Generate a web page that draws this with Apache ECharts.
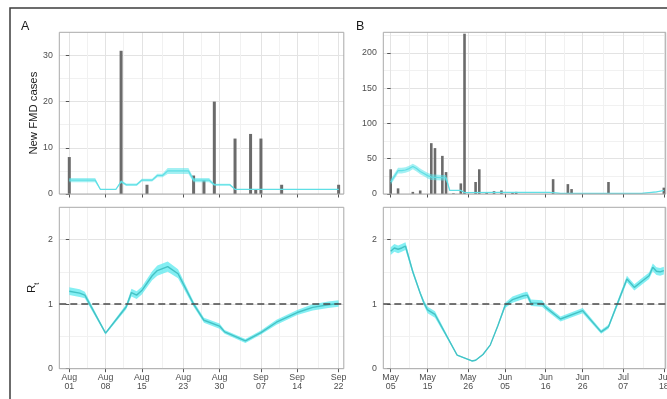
<!DOCTYPE html>
<html><head><meta charset="utf-8">
<script src="https://cdn.jsdelivr.net/npm/echarts@6/dist/echarts.min.js"></script>
<style>html,body{margin:0;padding:0;background:#fff}#c{width:667px;height:399px}</style>
</head><body><div id="c"></div>
<script>
// ---------- tick labels ----------
const aTickDays = [0, 7, 14, 22, 29, 37, 44, 52];
const aTickLabels = ['Aug\n01', 'Aug\n08', 'Aug\n15', 'Aug\n23', 'Aug\n30', 'Sep\n07', 'Sep\n14', 'Sep\n22'];
const aMinorDays = [3.5, 10.5, 18, 25.5, 33, 40.5, 48];
const bTickDays = [0, 10, 21, 31, 42, 52, 63, 74];
const bTickLabels = ['May\n05', 'May\n15', 'May\n26', 'Jun\n05', 'Jun\n16', 'Jun\n26', 'Jul\n07', 'Jul\n18'];
const bMinorDays = [5, 15.5, 26, 36.5, 47, 57.5, 68.5];
const casesATicks = [0, 10, 20, 30];
const casesAMinor = [5, 15, 25];
const casesBTicks = [0, 50, 100, 150, 200];
const casesBMinor = [25, 75, 125, 175, 225];
const rtTicks = [0, 1, 2];
const rtMinor = [0.5, 1.5];

// ---------- panel A: new cases ----------
const aCaseDays = [0, 10, 15, 24, 26, 28, 32, 35, 36, 37, 41, 52];
const aCases    = [8, 31, 2, 4, 3, 20, 12, 13, 1, 12, 2, 2];
const aExpDays  = [0, 5, 6, 9, 10, 11, 13, 14, 16, 17, 18, 19, 23, 24, 27, 28, 31, 32, 52];
const aExpVals  = [3, 3, 1, 1, 2.7, 2, 2, 3, 3, 4, 4, 5, 5, 3, 3, 2, 2, 1, 1];
const aExpHalf  = [0.45, 0.45, 0.1, 0.1, 0.3, 0.25, 0.25, 0.3, 0.3, 0.4, 0.4, 0.65, 0.65, 0.45, 0.45, 0.2, 0.2, 0.08, 0.08];

// ---------- panel A: Rt ----------
const aRtDays = [0, 2, 3, 7, 11, 12, 13, 14, 16, 17, 19, 21, 24, 26, 29, 30, 34, 37, 40, 44, 47, 50, 52];
const aRtVals = [1.20, 1.17, 1.14, 0.55, 0.96, 1.18, 1.14, 1.21, 1.44, 1.52, 1.58, 1.47, 1.00, 0.75, 0.66, 0.57, 0.43, 0.56, 0.72, 0.87, 0.95, 0.99, 1.01];
const aRtHalf = [0.06, 0.06, 0.05, 0.02, 0.04, 0.06, 0.06, 0.06, 0.07, 0.08, 0.08, 0.07, 0.04, 0.04, 0.04, 0.03, 0.03, 0.03, 0.04, 0.04, 0.05, 0.05, 0.05];

// ---------- panel B: new cases ----------
const bCaseDays = [0, 2, 6, 8, 11, 12, 14, 15, 17, 19, 20, 23, 24, 26, 28, 30, 33, 34, 44, 48, 49, 59, 74];
const bCases    = [35, 8, 3, 5, 72, 65, 54, 31, 1, 15, 227, 17, 35, 2, 4, 5, 2, 3, 21, 14, 7, 17, 9];
const bExpDays  = [0, 1, 2, 3, 4, 5, 6, 7, 8, 9, 10, 11, 14, 15, 16, 19, 20, 30, 43, 46, 68, 72, 74];
const bExpVals  = [17, 25, 33, 33, 34, 36, 39, 36, 32, 29, 26, 24, 23, 23, 5, 5, 2, 2.4, 2.4, 1, 1, 3, 5];
const bExpHalf  = [4, 4, 4, 4, 4, 4, 4, 4, 4, 4, 4, 4, 4, 4, 0.8, 0.8, 0.4, 0.4, 0.4, 0.3, 0.3, 0.5, 0.6];

// ---------- panel B: Rt ----------
const bRtDays = [0, 1, 2, 3, 4, 6, 8, 9, 10, 12, 18, 22, 23, 25, 27, 29, 31, 33, 36, 37, 38, 41, 42, 46, 52, 57, 59, 64, 66, 68, 70, 71, 72, 73, 74];
const bRtVals = [1.82, 1.87, 1.85, 1.87, 1.90, 1.50, 1.17, 1.02, 0.91, 0.84, 0.21, 0.12, 0.13, 0.22, 0.37, 0.66, 0.98, 1.07, 1.13, 1.14, 1.02, 1.01, 0.95, 0.77, 0.90, 0.57, 0.65, 1.39, 1.26, 1.35, 1.44, 1.57, 1.51, 1.50, 1.52];
const bRtHalf = [0.06, 0.06, 0.06, 0.06, 0.06, 0.04, 0.03, 0.04, 0.05, 0.05, 0.01, 0.01, 0.01, 0.01, 0.01, 0.02, 0.04, 0.05, 0.05, 0.05, 0.05, 0.05, 0.04, 0.04, 0.04, 0.03, 0.03, 0.05, 0.05, 0.05, 0.05, 0.06, 0.06, 0.06, 0.06];

const F = 'Liberation Sans, Arial, Helvetica, sans-serif';
const LBL = '#4d4d4d';
const pairs = (xs, ys) => xs.map((x, i) => [x, ys[i]]);

function xAxes(gi, min, max, ticks, minor, labels, showLabels) {
  return [
    { type: 'value', gridIndex: gi, min: min, max: max, position: 'bottom',
      axisLine: { show: false },
      axisTick: { show: true, customValues: ticks, length: 3.5, lineStyle: { color: '#555', width: 1 } },
      axisLabel: { show: showLabels, customValues: ticks, fontSize: 8.8, lineHeight: 9, margin: 4.5,
        color: LBL, fontFamily: F, formatter: function (v) { const k = ticks.indexOf(v); return k >= 0 ? labels[k] : ''; } },
      splitLine: { show: true, lineStyle: { color: '#e3e3e3', width: 1 } } },
    { type: 'value', gridIndex: gi, min: min, max: max, position: 'top',
      axisLine: { show: false }, axisTick: { show: false, customValues: minor }, axisLabel: { show: false },
      splitLine: { show: true, lineStyle: { color: '#f1f1f1', width: 1 } } }
  ];
}
function yAxes(gi, min, max, ticks, minor, extra) {
  return [
    Object.assign({ type: 'value', gridIndex: gi, min: min, max: max, position: 'left',
      axisLine: { show: false },
      axisTick: { show: true, customValues: ticks, length: 3.5, lineStyle: { color: '#555', width: 1 } },
      axisLabel: { show: true, customValues: ticks, fontSize: 8.8, margin: 6.5, color: LBL, fontFamily: F },
      splitLine: { show: true, lineStyle: { color: '#e3e3e3', width: 1 } } }, extra || {}),
    { type: 'value', gridIndex: gi, min: min, max: max, position: 'right',
      axisLine: { show: false }, axisTick: { show: false, customValues: minor }, axisLabel: { show: false },
      splitLine: { show: true, lineStyle: { color: '#f1f1f1', width: 1 } } }
  ];
}
function band(xi, yi, days, vals, half, fill) {
  const lo = days.map((d, i) => [d, vals[i] - half[i]]);
  const hi = days.map((d, i) => [d, vals[i] + half[i]]);
  return {
    type: 'custom', xAxisIndex: xi, yAxisIndex: yi, silent: true, z: 3,
    data: days.map((d, i) => [d, vals[i]]),
    renderItem: function (params, api) {
      if (params.dataIndex !== 0) return null;
      const pts = lo.map(p => api.coord(p)).concat(hi.slice().reverse().map(p => api.coord(p)));
      return { type: 'polygon', shape: { points: pts }, style: { fill: fill } };
    }
  };
}
function line(xi, yi, days, vals, color, w, extra) {
  return Object.assign({ type: 'line', xAxisIndex: xi, yAxisIndex: yi, data: pairs(days, vals),
    showSymbol: false, symbol: 'none', silent: true, z: 4, animation: false,
    lineStyle: { color: color, width: w } }, extra || {});
}
function bars(xi, yi, days, vals, w) {
  return { type: 'bar', xAxisIndex: xi, yAxisIndex: yi, data: pairs(days, vals), barWidth: w,
    silent: true, z: 2, itemStyle: { color: '#6b6b6b' } };
}
const dashed = { markLine: { silent: true, symbol: 'none', label: { show: false },
  lineStyle: { color: '#4a4a4a', width: 1.5, type: [7, 4] }, data: [{ yAxis: 1 }] } };

const gridStyle = { show: true, z: 5, borderColor: '#a9a9a9', borderWidth: 1, backgroundColor: 'transparent', outerBoundsMode: 'none', containLabel: false };
const grids = [
  Object.assign({ left: 59.3, top: 32.3, width: 284.5, height: 161.7 }, gridStyle),
  Object.assign({ left: 59.3, top: 207.3, width: 284.5, height: 161.4 }, gridStyle),
  Object.assign({ left: 383.3, top: 32.3, width: 282.4, height: 161.7 }, gridStyle),
  Object.assign({ left: 383.3, top: 207.3, width: 282.4, height: 161.4 }, gridStyle)
];

const xAxis = [].concat(
  xAxes(0, -1.93, 53.0, aTickDays, aMinorDays, aTickLabels, false),
  xAxes(1, -1.93, 53.0, aTickDays, aMinorDays, aTickLabels, true),
  xAxes(2, -2.0, 74.5, bTickDays, bMinorDays, bTickLabels, false),
  xAxes(3, -2.0, 74.5, bTickDays, bMinorDays, bTickLabels, true)
);
const yAxis = [].concat(
  yAxes(0, 0, 35, casesATicks, casesAMinor, { name: 'New FMD cases', nameLocation: 'middle', nameRotate: 90, nameGap: 18,
    nameTextStyle: { fontSize: 11.3, color: '#1a1a1a', fontFamily: F } }),
  yAxes(1, 0, 2.5, rtTicks, rtMinor, { name: '{r|R}{s|t}', nameLocation: 'middle', nameRotate: 90, nameGap: 19,
    nameTextStyle: { color: '#1a1a1a', rich: {
      r: { fontSize: 11.5, fontFamily: F, color: '#1a1a1a', lineHeight: 16 },
      s: { fontSize: 7, fontFamily: F, color: '#1a1a1a', verticalAlign: 'bottom', lineHeight: 8 } } } }),
  yAxes(2, 0, 229, casesBTicks, casesBMinor),
  yAxes(3, 0, 2.5, rtTicks, rtMinor)
);

const CY = '#5fdfe5';
const series = [
  bars(0, 0, aCaseDays, aCases, 3),
  band(0, 0, aExpDays, aExpVals, aExpHalf, 'rgba(90,228,234,0.55)'),
  line(0, 0, aExpDays, aExpVals, CY, 1.2),
  band(2, 2, aRtDays, aRtVals, aRtHalf, 'rgba(80,232,238,0.7)'),
  line(2, 2, aRtDays, aRtVals, '#44c2c5', 1.4, dashed),
  bars(4, 4, bCaseDays, bCases, 2.6),
  band(4, 4, bExpDays, bExpVals, bExpHalf, 'rgba(90,228,234,0.55)'),
  line(4, 4, bExpDays, bExpVals, CY, 1.2),
  band(6, 6, bRtDays, bRtVals, bRtHalf, 'rgba(80,232,238,0.7)'),
  line(6, 6, bRtDays, bRtVals, '#44c2c5', 1.4, dashed)
];

const chart = echarts.init(document.getElementById('c'), null, { renderer: 'canvas' });
chart.setOption({
  animation: false,
  backgroundColor: '#ffffff',
  textStyle: { fontFamily: F },
  grid: grids, xAxis: xAxis, yAxis: yAxis, series: series,
  graphic: [
    { type: 'rect', silent: true, z: 100, shape: { x: 10, y: 8, width: 720, height: 460 },
      style: { fill: 'none', stroke: '#3c3c3c', lineWidth: 1.5 } },
    { type: 'text', left: 21, top: 20, z: 100, style: { text: 'A', fontSize: 12.5, fontFamily: F, fill: '#1a1a1a' } },
    { type: 'text', left: 356, top: 20, z: 100, style: { text: 'B', fontSize: 12.5, fontFamily: F, fill: '#1a1a1a' } }
  ]
});
</script></body></html>
